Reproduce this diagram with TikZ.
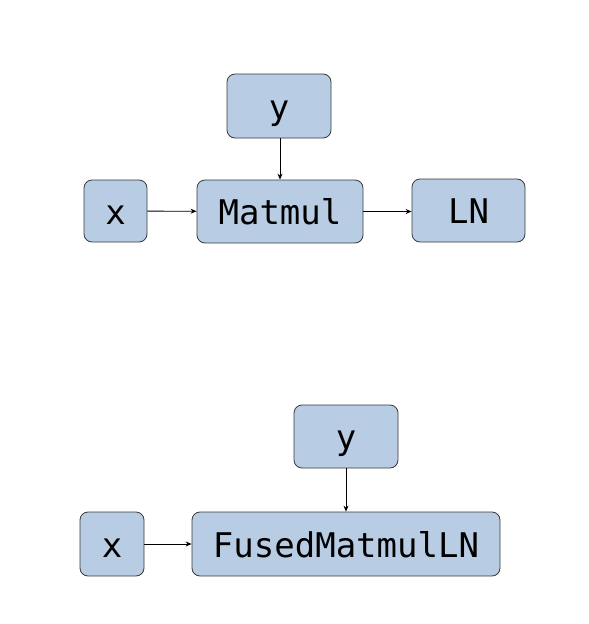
\documentclass[tikz,border=0pt]{standalone}
\usepackage{fontspec}
\setmonofont{DejaVu Sans Mono}
\usetikzlibrary{arrows.meta}
\definecolor{boxfill}{HTML}{B8CCE4}
\definecolor{boxline}{HTML}{3A3A3A}
\tikzset{
  opbox/.style={draw=boxline, fill=boxfill, line width=0.8pt, rounded corners=8pt,
    inner sep=0pt, font=\ttfamily\fontsize{34}{38}\selectfont,
    text height=34pt, text depth=8pt, anchor=center},
  conn/.style={-{Stealth[length=6pt,width=5pt]}, line width=0.8pt, black}
}
\begin{document}
\begin{tikzpicture}[x=1pt,y=-1pt]
\useasboundingbox (0,0) rectangle (589,624);
% top
\node[opbox, minimum width=104pt, minimum height=64pt] (y1) at (279,106) {y};
\node[opbox, minimum width=63pt, minimum height=62pt] (x1) at (115.5,211) {x};
\node[opbox, minimum width=166pt, minimum height=63pt] (mm) at (280,211.5) {Matmul};
\node[opbox, minimum width=113pt, minimum height=63pt] (ln) at (468.5,210.5) {LN};
\draw[conn] (x1) -- (mm);
\draw[conn] (y1.south -| mm.north) -- (mm.north);
\draw[conn] (mm.east) -- (ln.west |- mm.east);
% bottom
\node[opbox, minimum width=104pt, minimum height=63pt] (y2) at (346,436.5) {y};
\node[opbox, minimum width=64pt, minimum height=64pt] (x2) at (112,544) {x};
\node[opbox, minimum width=308pt, minimum height=64pt] (fu) at (346,544) {FusedMatmulLN};
\draw[conn] (x2) -- (fu);
\draw[conn] (y2) -- (fu);
\end{tikzpicture}
\end{document}
